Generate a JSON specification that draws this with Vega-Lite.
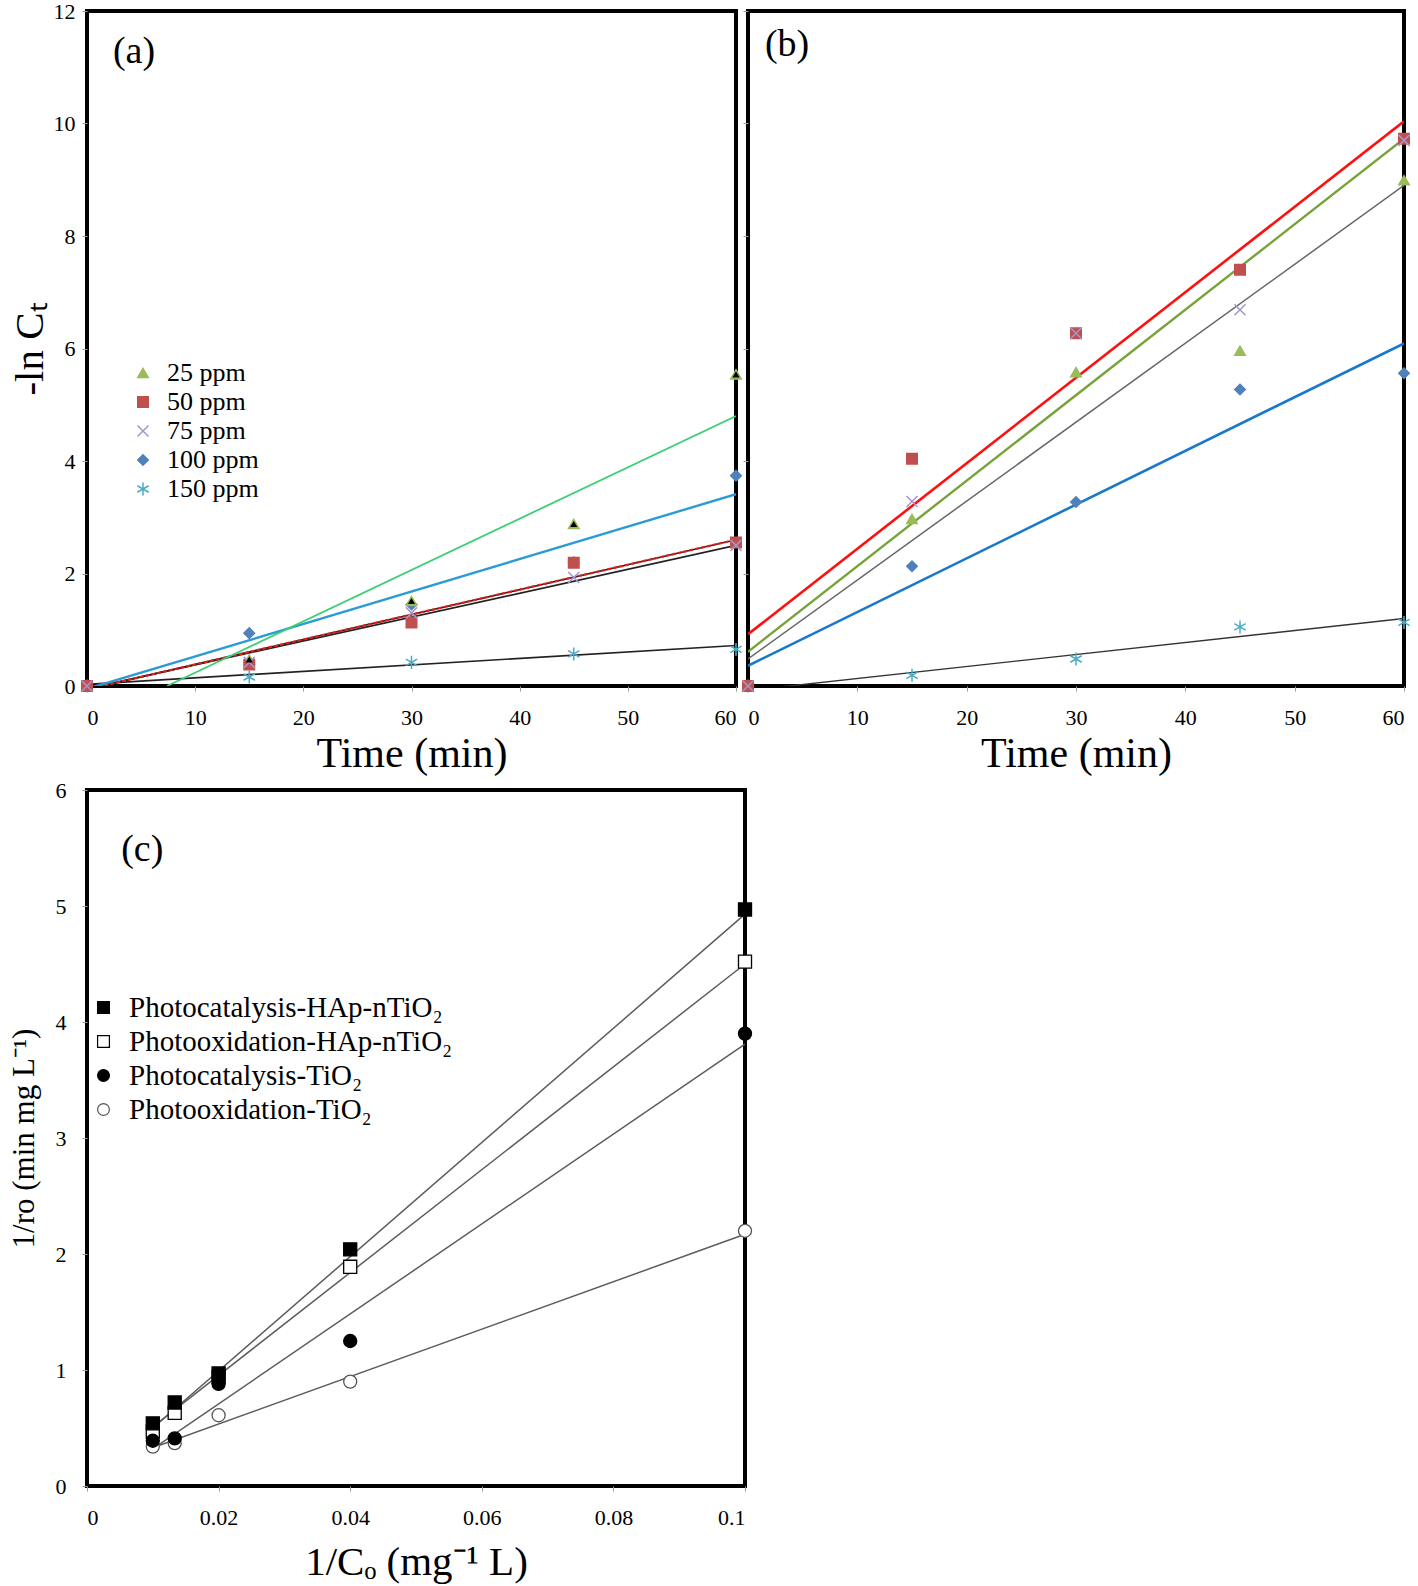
{
  "$schema": "https://vega.github.io/schema/vega-lite/v6.json",
  "background": "white",
  "padding": {"left": 6, "top": -2, "right": 0, "bottom": 0},
  "spacing": 1,
  "resolve": {"scale": {"x": "independent", "y": "independent", "fill": "independent", "stroke": "independent", "shape": "independent"}, "legend": {"fill": "independent", "stroke": "independent", "shape": "independent"}},
  "config": {
    "font": "Liberation Serif",
    "view": {"stroke": "black", "strokeWidth": 4},
    "axis": {"grid": false, "domain": false, "tickColor": "#9a9a9a", "tickSize": 5, "labelFont": "Liberation Serif", "labelFontSize": 22, "labelColor": "black", "titleFont": "Liberation Serif", "titleFontWeight": "normal", "titleColor": "black"},
    "legend": {"labelFont": "Liberation Serif", "labelColor": "black", "padding": 0, "labelLimit": 600}
  },
  "datasets": {
    "pa": [
      {"series": "100 ppm", "t": 0, "y": 0}, {"series": "100 ppm", "t": 15, "y": 0.94}, {"series": "100 ppm", "t": 30, "y": 1.45}, {"series": "100 ppm", "t": 45, "y": 2.2}, {"series": "100 ppm", "t": 60, "y": 3.74},
      {"series": "150 ppm", "t": 0, "y": 0}, {"series": "150 ppm", "t": 15, "y": 0.16}, {"series": "150 ppm", "t": 30, "y": 0.42}, {"series": "150 ppm", "t": 45, "y": 0.57}, {"series": "150 ppm", "t": 60, "y": 0.65},
      {"series": "25 ppm", "t": 0, "y": 0}, {"series": "25 ppm", "t": 15, "y": 0.47}, {"series": "25 ppm", "t": 30, "y": 1.51}, {"series": "25 ppm", "t": 45, "y": 2.88}, {"series": "25 ppm", "t": 60, "y": 5.54},
      {"series": "50 ppm", "t": 0, "y": 0}, {"series": "50 ppm", "t": 15, "y": 0.38}, {"series": "50 ppm", "t": 30, "y": 1.13}, {"series": "50 ppm", "t": 45, "y": 2.19}, {"series": "50 ppm", "t": 60, "y": 2.55},
      {"series": "75 ppm", "t": 0, "y": 0}, {"series": "75 ppm", "t": 15, "y": 0.42}, {"series": "75 ppm", "t": 30, "y": 1.3}, {"series": "75 ppm", "t": 45, "y": 1.93}, {"series": "75 ppm", "t": 60, "y": 2.5}
    ],
    "la": [
      {"series": "75 ppm", "t": 0, "y": -0.05}, {"series": "75 ppm", "t": 60, "y": 2.5},
      {"series": "150 ppm", "t": 0, "y": 0.03}, {"series": "150 ppm", "t": 60, "y": 0.72},
      {"series": "50 ppm", "t": 0, "y": -0.06}, {"series": "50 ppm", "t": 60, "y": 2.6},
      {"series": "100 ppm", "t": 0, "y": -0.05}, {"series": "100 ppm", "t": 60, "y": 3.41},
      {"series": "25 ppm", "t": 7.4, "y": 0}, {"series": "25 ppm", "t": 60, "y": 4.8}
    ],
    "pb": [
      {"series": "100 ppm", "t": 0, "y": 0}, {"series": "100 ppm", "t": 15, "y": 2.13}, {"series": "100 ppm", "t": 30, "y": 3.27}, {"series": "100 ppm", "t": 45, "y": 5.27}, {"series": "100 ppm", "t": 60, "y": 5.56},
      {"series": "150 ppm", "t": 0, "y": 0}, {"series": "150 ppm", "t": 15, "y": 0.19}, {"series": "150 ppm", "t": 30, "y": 0.48}, {"series": "150 ppm", "t": 45, "y": 1.05}, {"series": "150 ppm", "t": 60, "y": 1.13},
      {"series": "25 ppm", "t": 0, "y": 0}, {"series": "25 ppm", "t": 15, "y": 2.97}, {"series": "25 ppm", "t": 30, "y": 5.58}, {"series": "25 ppm", "t": 45, "y": 5.96}, {"series": "25 ppm", "t": 60, "y": 8.99},
      {"series": "50 ppm", "t": 0, "y": 0}, {"series": "50 ppm", "t": 15, "y": 4.04}, {"series": "50 ppm", "t": 30, "y": 6.27}, {"series": "50 ppm", "t": 45, "y": 7.4}, {"series": "50 ppm", "t": 60, "y": 9.73},
      {"series": "75 ppm", "t": 0, "y": 0}, {"series": "75 ppm", "t": 15, "y": 3.28}, {"series": "75 ppm", "t": 30, "y": 6.27}, {"series": "75 ppm", "t": 45, "y": 6.69}, {"series": "75 ppm", "t": 60, "y": 9.7}
    ],
    "lb": [
      {"series": "150 ppm", "t": 0, "y": -0.08}, {"series": "150 ppm", "t": 60, "y": 1.2},
      {"series": "75 ppm", "t": 0, "y": 0.48}, {"series": "75 ppm", "t": 60, "y": 8.9},
      {"series": "100 ppm", "t": 0, "y": 0.36}, {"series": "100 ppm", "t": 60, "y": 6.09},
      {"series": "25 ppm", "t": 0, "y": 0.61}, {"series": "25 ppm", "t": 60, "y": 9.73},
      {"series": "50 ppm", "t": 0, "y": 0.92}, {"series": "50 ppm", "t": 60, "y": 10.04}
    ],
    "pc": [
      {"series": "Photooxidation-TiO₂", "x": 0.01, "y": 0.34}, {"series": "Photooxidation-TiO₂", "x": 0.01333, "y": 0.37}, {"series": "Photooxidation-TiO₂", "x": 0.02, "y": 0.61}, {"series": "Photooxidation-TiO₂", "x": 0.04, "y": 0.9}, {"series": "Photooxidation-TiO₂", "x": 0.1, "y": 2.2},
      {"series": "Photooxidation-HAp-nTiO₂", "x": 0.01, "y": 0.47}, {"series": "Photooxidation-HAp-nTiO₂", "x": 0.01333, "y": 0.63}, {"series": "Photooxidation-HAp-nTiO₂", "x": 0.02, "y": 0.94}, {"series": "Photooxidation-HAp-nTiO₂", "x": 0.04, "y": 1.89}, {"series": "Photooxidation-HAp-nTiO₂", "x": 0.1, "y": 4.52},
      {"series": "Photocatalysis-TiO₂", "x": 0.01, "y": 0.39}, {"series": "Photocatalysis-TiO₂", "x": 0.01333, "y": 0.41}, {"series": "Photocatalysis-TiO₂", "x": 0.02, "y": 0.88}, {"series": "Photocatalysis-TiO₂", "x": 0.04, "y": 1.25}, {"series": "Photocatalysis-TiO₂", "x": 0.1, "y": 3.9},
      {"series": "Photocatalysis-HAp-nTiO₂", "x": 0.01, "y": 0.54}, {"series": "Photocatalysis-HAp-nTiO₂", "x": 0.01333, "y": 0.72}, {"series": "Photocatalysis-HAp-nTiO₂", "x": 0.02, "y": 0.97}, {"series": "Photocatalysis-HAp-nTiO₂", "x": 0.04, "y": 2.04}, {"series": "Photocatalysis-HAp-nTiO₂", "x": 0.1, "y": 4.97}
    ],
    "lc": [
      {"series": "Photocatalysis-HAp-nTiO₂", "x": 0.01, "y": 0.5}, {"series": "Photocatalysis-HAp-nTiO₂", "x": 0.1, "y": 4.93},
      {"series": "Photooxidation-HAp-nTiO₂", "x": 0.01, "y": 0.51}, {"series": "Photooxidation-HAp-nTiO₂", "x": 0.1, "y": 4.5},
      {"series": "Photocatalysis-TiO₂", "x": 0.01, "y": 0.32}, {"series": "Photocatalysis-TiO₂", "x": 0.1, "y": 3.81},
      {"series": "Photooxidation-TiO₂", "x": 0.01, "y": 0.33}, {"series": "Photooxidation-TiO₂", "x": 0.1, "y": 2.17}
    ]
  },
  "vconcat": [
    {
      "spacing": -10,
      "resolve": {"scale": {"x": "independent", "y": "independent", "fill": "independent", "stroke": "independent", "shape": "independent"}, "legend": {"fill": "independent", "stroke": "independent", "shape": "independent"}},
      "hconcat": [
        {
          "width": 649, "height": 675,
          "layer": [
            {
              "data": {"name": "la"},
              "transform": [{"filter": "datum.series === '75 ppm' || datum.series === '150 ppm' || datum.series === '50 ppm'"}],
              "mark": {"type": "line", "clip": true, "color": "#222222", "strokeWidth": 1.7},
              "encoding": {
                "x": {"field": "t", "type": "quantitative", "scale": {"domain": [0, 60]}, "axis": {"values": [0, 10, 20, 30, 40, 50, 60], "format": "d", "labelFlush": true, "title": "Time (min)", "titleFontSize": 42, "labelPadding": 16, "titlePadding": 5}},
                "y": {"field": "y", "type": "quantitative", "scale": {"domain": [0, 12]}, "axis": {"values": [0, 2, 4, 6, 8, 10, 12], "format": "d", "title": "-ln Cₜ", "titleFontSize": 41, "labelPadding": 7, "titlePadding": 2}},
                "detail": {"field": "series"}
              }
            },
            {
              "data": {"name": "la"},
              "transform": [{"filter": "datum.series === '50 ppm'"}],
              "mark": {"type": "line", "clip": true, "color": "#e41d1d", "strokeWidth": 2.2, "strokeDash": [4, 2]},
              "encoding": {"x": {"field": "t", "type": "quantitative"}, "y": {"field": "y", "type": "quantitative"}}
            },
            {
              "data": {"name": "la"},
              "transform": [{"filter": "datum.series === '100 ppm'"}],
              "mark": {"type": "line", "clip": true, "color": "#2b9ad8", "strokeWidth": 2.4},
              "encoding": {"x": {"field": "t", "type": "quantitative"}, "y": {"field": "y", "type": "quantitative"}}
            },
            {
              "data": {"name": "la"},
              "transform": [{"filter": "datum.series === '25 ppm'"}],
              "mark": {"type": "line", "clip": true, "color": "#3ccf74", "strokeWidth": 1.8},
              "encoding": {"x": {"field": "t", "type": "quantitative"}, "y": {"field": "y", "type": "quantitative"}}
            },
            {
              "data": {"name": "pa"},
              "mark": {"type": "point", "size": 110, "strokeWidth": 1.5, "opacity": 1, "fillOpacity": 1, "strokeOpacity": 1},
              "encoding": {
                "x": {"field": "t", "type": "quantitative"},
                "y": {"field": "y", "type": "quantitative"},
                "shape": {"field": "series", "type": "nominal", "scale": {"domain": ["25 ppm", "50 ppm", "75 ppm", "100 ppm", "150 ppm"], "range": ["triangle-up", "square", "M-1.05,-1.05L1.05,1.05M-1.05,1.05L1.05,-1.05", "diamond", "M0,-1.25L0,1.25M-1.08,-0.62L1.08,0.62M-1.08,0.62L1.08,-0.62"]}, "legend": {"title": null, "orient": "none", "legendX": 43, "legendY": 349, "labelFontSize": 26, "symbolSize": 110, "rowPadding": 3, "labelOffset": 11, "symbolStrokeWidth": 1.5}},
                "fill": {"field": "series", "type": "nominal", "scale": {"domain": ["25 ppm", "50 ppm", "75 ppm", "100 ppm", "150 ppm"], "range": ["#9BBB59", "#C0504D", "transparent", "#4F81BD", "transparent"]}, "legend": {"title": null, "orient": "none", "legendX": 43, "legendY": 349, "labelFontSize": 26, "symbolSize": 110, "rowPadding": 3, "labelOffset": 11, "symbolStrokeWidth": 1.5}},
                "stroke": {"field": "series", "type": "nominal", "scale": {"domain": ["25 ppm", "50 ppm", "75 ppm", "100 ppm", "150 ppm"], "range": ["#9BBB59", "#C0504D", "#A496CC", "#4F81BD", "#4BACC6"]}, "legend": {"title": null, "orient": "none", "legendX": 43, "legendY": 349, "labelFontSize": 26, "symbolSize": 110, "rowPadding": 3, "labelOffset": 11, "symbolStrokeWidth": 1.5}}
              }
            },
            {
              "data": {"name": "pa"},
              "transform": [{"filter": "datum.series === '25 ppm' && datum.t > 0"}],
              "mark": {"type": "point", "shape": "triangle-up", "size": 50, "filled": true, "color": "black", "opacity": 1},
              "encoding": {"x": {"field": "t", "type": "quantitative"}, "y": {"field": "y", "type": "quantitative"}}
            },
            {
              "data": {"values": [{}]},
              "mark": {"type": "text", "text": "(a)", "font": "Liberation Serif", "fontSize": 38, "align": "left", "baseline": "middle", "color": "black"},
              "encoding": {"x": {"datum": 2.4, "type": "quantitative"}, "y": {"datum": 11.28, "type": "quantitative"}}
            }
          ]
        },
        {
          "width": 656, "height": 675,
          "layer": [
            {
              "data": {"name": "lb"},
              "transform": [{"filter": "datum.series === '150 ppm'"}],
              "mark": {"type": "line", "clip": true, "color": "#333333", "strokeWidth": 1.4},
              "encoding": {
                "x": {"field": "t", "type": "quantitative", "scale": {"domain": [0, 60]}, "axis": {"values": [0, 10, 20, 30, 40, 50, 60], "format": "d", "labelFlush": true, "title": "Time (min)", "titleFontSize": 42, "labelPadding": 16, "titlePadding": 5}},
                "y": {"field": "y", "type": "quantitative", "scale": {"domain": [0, 12]}, "axis": {"values": [0, 2, 4, 6, 8, 10, 12], "labels": false, "title": null}}
              }
            },
            {
              "data": {"name": "lb"},
              "transform": [{"filter": "datum.series === '75 ppm'"}],
              "mark": {"type": "line", "clip": true, "color": "#666666", "strokeWidth": 1.5},
              "encoding": {"x": {"field": "t", "type": "quantitative"}, "y": {"field": "y", "type": "quantitative"}}
            },
            {
              "data": {"name": "lb"},
              "transform": [{"filter": "datum.series === '100 ppm'"}],
              "mark": {"type": "line", "clip": true, "color": "#1a78cc", "strokeWidth": 2.6},
              "encoding": {"x": {"field": "t", "type": "quantitative"}, "y": {"field": "y", "type": "quantitative"}}
            },
            {
              "data": {"name": "lb"},
              "transform": [{"filter": "datum.series === '25 ppm'"}],
              "mark": {"type": "line", "clip": true, "color": "#77a33a", "strokeWidth": 2.4},
              "encoding": {"x": {"field": "t", "type": "quantitative"}, "y": {"field": "y", "type": "quantitative"}}
            },
            {
              "data": {"name": "lb"},
              "transform": [{"filter": "datum.series === '50 ppm'"}],
              "mark": {"type": "line", "clip": true, "color": "#ff1010", "strokeWidth": 2.6},
              "encoding": {"x": {"field": "t", "type": "quantitative"}, "y": {"field": "y", "type": "quantitative"}}
            },
            {
              "data": {"name": "pb"},
              "mark": {"type": "point", "size": 110, "strokeWidth": 1.5, "opacity": 1, "fillOpacity": 1, "strokeOpacity": 1},
              "encoding": {
                "x": {"field": "t", "type": "quantitative"},
                "y": {"field": "y", "type": "quantitative"},
                "shape": {"field": "series", "type": "nominal", "scale": {"domain": ["25 ppm", "50 ppm", "75 ppm", "100 ppm", "150 ppm"], "range": ["triangle-up", "square", "M-1.05,-1.05L1.05,1.05M-1.05,1.05L1.05,-1.05", "diamond", "M0,-1.25L0,1.25M-1.08,-0.62L1.08,0.62M-1.08,0.62L1.08,-0.62"]}, "legend": null},
                "fill": {"field": "series", "type": "nominal", "scale": {"domain": ["25 ppm", "50 ppm", "75 ppm", "100 ppm", "150 ppm"], "range": ["#9BBB59", "#C0504D", "transparent", "#4F81BD", "transparent"]}, "legend": null},
                "stroke": {"field": "series", "type": "nominal", "scale": {"domain": ["25 ppm", "50 ppm", "75 ppm", "100 ppm", "150 ppm"], "range": ["#9BBB59", "#C0504D", "#A496CC", "#4F81BD", "#4BACC6"]}, "legend": null}
              }
            },
            {
              "data": {"values": [{}]},
              "mark": {"type": "text", "text": "(b)", "font": "Liberation Serif", "fontSize": 38, "align": "left", "baseline": "middle", "color": "black"},
              "encoding": {"x": {"datum": 1.55, "type": "quantitative"}, "y": {"datum": 11.4, "type": "quantitative"}}
            }
          ]
        }
      ]
    },
    {
      "hconcat": [
        {
          "width": 658, "height": 696,
          "layer": [
            {
              "data": {"name": "lc"},
              "mark": {"type": "line", "color": "#5c5c5c", "strokeWidth": 1.5},
              "encoding": {
                "x": {"field": "x", "type": "quantitative", "scale": {"domain": [0, 0.1]}, "axis": {"values": [0, 0.02, 0.04, 0.06, 0.08, 0.1], "format": "~g", "title": "1/Cₒ (mg⁻¹ L)", "titleFontSize": 41, "labelPadding": 16, "titlePadding": 14}},
                "y": {"field": "y", "type": "quantitative", "scale": {"domain": [0, 6]}, "axis": {"values": [0, 1, 2, 3, 4, 5, 6], "format": "d", "title": "1/ro (min mg L⁻¹)", "titleFontSize": 31, "labelPadding": 16, "titlePadding": 15}},
                "detail": {"field": "series"}
              }
            },
            {
              "data": {"name": "pc"},
              "mark": {"type": "point", "size": 170, "strokeWidth": 1.3, "opacity": 1, "fillOpacity": 1, "strokeOpacity": 1},
              "encoding": {
                "x": {"field": "x", "type": "quantitative"},
                "y": {"field": "y", "type": "quantitative"},
                "shape": {"field": "series", "type": "nominal", "scale": {"domain": ["Photocatalysis-HAp-nTiO₂", "Photooxidation-HAp-nTiO₂", "Photocatalysis-TiO₂", "Photooxidation-TiO₂"], "range": ["square", "square", "circle", "circle"]}, "legend": {"title": null, "orient": "none", "legendX": 2, "legendY": 203, "labelFontSize": 29, "symbolSize": 140, "rowPadding": 4, "labelOffset": 11, "symbolStrokeWidth": 1.2}},
                "fill": {"field": "series", "type": "nominal", "scale": {"domain": ["Photocatalysis-HAp-nTiO₂", "Photooxidation-HAp-nTiO₂", "Photocatalysis-TiO₂", "Photooxidation-TiO₂"], "range": ["black", "white", "black", "white"]}, "legend": {"title": null, "orient": "none", "legendX": 2, "legendY": 203, "labelFontSize": 29, "symbolSize": 140, "rowPadding": 4, "labelOffset": 11, "symbolStrokeWidth": 1.2}},
                "stroke": {"field": "series", "type": "nominal", "scale": {"domain": ["Photocatalysis-HAp-nTiO₂", "Photooxidation-HAp-nTiO₂", "Photocatalysis-TiO₂", "Photooxidation-TiO₂"], "range": ["black", "black", "black", "#555555"]}, "legend": {"title": null, "orient": "none", "legendX": 2, "legendY": 203, "labelFontSize": 29, "symbolSize": 140, "rowPadding": 4, "labelOffset": 11, "symbolStrokeWidth": 1.2}}
              }
            },
            {
              "data": {"values": [{}]},
              "mark": {"type": "text", "text": "(c)", "font": "Liberation Serif", "fontSize": 38, "align": "left", "baseline": "middle", "color": "black"},
              "encoding": {"x": {"datum": 0.0052, "type": "quantitative"}, "y": {"datum": 5.48, "type": "quantitative"}}
            }
          ]
        }
      ]
    }
  ]
}
